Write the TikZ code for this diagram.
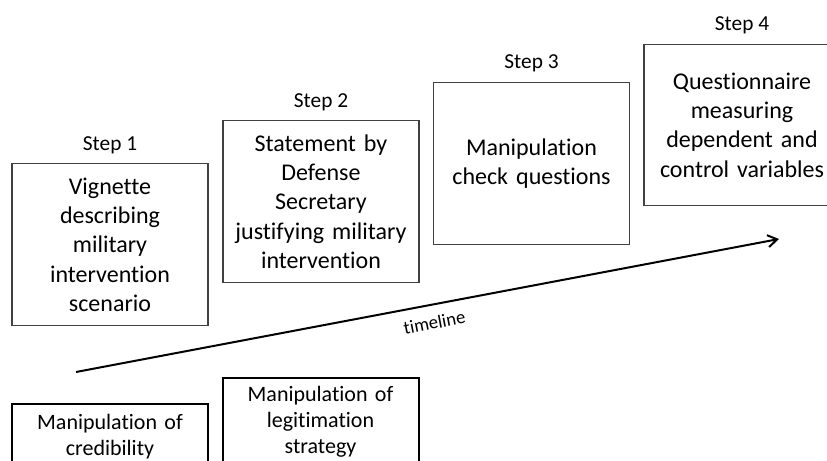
\documentclass[tikz,border=0pt]{standalone}
\usepackage{fontspec}
\setmainfont{Carlito}[Ligatures={NoCommon}]
\usetikzlibrary{arrows.meta}
\begin{document}
\begin{tikzpicture}[x=0.75pt,y=-0.75pt,
  stepbox/.style={draw=black!75, line width=0.9pt, minimum width=147pt, minimum height=121pt,
    inner sep=2pt, align=center, text width=143pt, font=\fontsize{18}{22}\selectfont},
  steplabel/.style={font=\fontsize{16}{19}\selectfont, inner sep=0pt},
  manbox/.style={draw=black, line width=1.5pt, text width=143pt, inner xsep=2pt, align=center,
    anchor=north, font=\fontsize{16.5}{19.5}\selectfont, text depth=60pt},
  timeaxis/.style={line width=1.5pt, -{Straight Barb[length=7pt,width=9pt]}},
  axislabel/.style={font=\fontsize{14}{16}\selectfont}]
\clip (0,0) rectangle (827,460);
% step boxes
\node[stepbox] (s1) at (110,244.5) {Vignette\\describing\\military\\intervention\\scenario};
\node[stepbox] (s2) at (321,201.5) {Statement by\\Defense\\Secretary\\justifying military\\intervention};
\node[stepbox] (s3) at (531.5,163.5) {Manipulation\\check questions};
\node[stepbox] (s4) at (742,125) {Questionnaire\\measuring\\dependent and\\control variables};
% step labels
\node[steplabel] (l1) at ([yshift=13.5pt]s1.north) {Step 1};
\node[steplabel] (l2) at ([yshift=13.5pt]s2.north) {Step 2};
\node[steplabel] (l3) at ([yshift=14pt]s3.north) {Step 3};
\node[steplabel] (l4) at ([yshift=14pt]s4.north) {Step 4};
% timeline
\coordinate (t0) at (76,372);
\coordinate (t1) at (779,239);
\draw[timeaxis] (t0) -- (t1) node[axislabel, pos=0.505, sloped, below=4.5pt] (tl) {timeline};
% manipulation boxes
\node[manbox, inner ysep=7.5pt] (m1) at (110,403) {Manipulation of\\credibility};
\node[manbox, inner ysep=6pt] (m2) at (320.5,377) {Manipulation of\\legitimation\\strategy};
\end{tikzpicture}
\end{document}
